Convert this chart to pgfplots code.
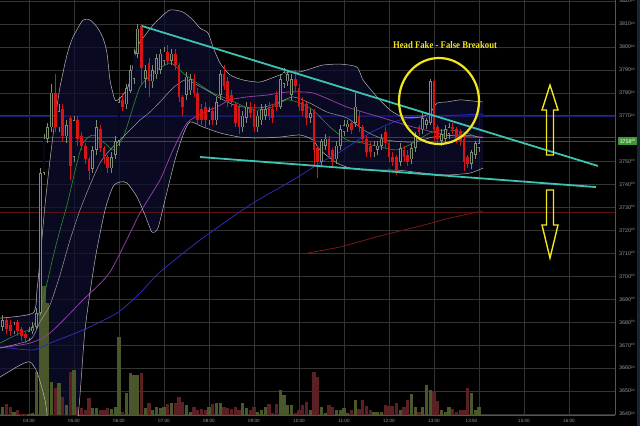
\documentclass[border=0pt]{standalone}
\usepackage{pgfplots}
\usepackage{pgfplotstable}
\pgfplotsset{compat=1.18}
\usepackage{fontspec}
\setmainfont{Liberation Sans}
\newfontfamily\annfont{Liberation Serif}
\definecolor{gridc}{HTML}{343434}
\definecolor{labc}{HTML}{9A9A9A}
\definecolor{axisc}{HTML}{555555}
\definecolor{bbfill}{HTML}{0D0D30}
\definecolor{bandc}{HTML}{B8B8B8}
\definecolor{midc}{HTML}{9C9C9C}
\definecolor{emac}{HTML}{2F8F2F}
\definecolor{purc}{HTML}{8E3CA0}
\definecolor{bluc}{HTML}{2C2CB8}
\definecolor{redmac}{HTML}{7A1818}
\definecolor{hblue}{HTML}{191970}
\definecolor{hpur}{HTML}{5E2A70}
\definecolor{hgreen}{HTML}{1F5F1F}
\definecolor{hred}{HTML}{5A1212}
\definecolor{candred}{HTML}{D81414}
\definecolor{candup}{HTML}{7E8C70}
\definecolor{candin}{HTML}{07071A}
\definecolor{volup}{HTML}{4A572A}
\definecolor{voldn}{HTML}{5A2024}
\definecolor{trendc}{HTML}{3EC2B2}
\definecolor{yel}{HTML}{F2E61E}
\definecolor{pricebox}{HTML}{3C9A34}
\definecolor{stripc}{HTML}{1A2535}
\newcommand\yl[1]{#1\raisebox{1.6pt}{\fontsize{3.2}{3.5}\selectfont 00}}

\pgfplotstableread{
i o h l c v
0 3678 3683 3676 3681 8
3 3676 3680 3675 3679 3
7 3673 3678 3672 3676 1
8 3676 3680 3675 3678 2
9 3678 3686 3677 3684 43
10 3684 3747 3683 3745 137
11 3745 3762 3744 3760 129
12 3760 3767 3758 3765 112
13 3765 3784 3763 3780 33
15 3765 3775 3763 3772 32
17 3761 3768 3758 3766 10
19 3752 3770 3750 3768 45
24 3747 3757 3745 3755 7
25 3755 3768 3753 3765 7
29 3747 3754 3745 3752 6
30 3753 3761 3751 3759 8
31 3759 3778 3757 3776 78
33 3775 3784 3773 3782 22
34 3781 3792 3780 3790 42
35 3786 3799 3784 3797 40
36 3797 3810 3795 3808 40
38 3786 3792 3782 3790 7
40 3785 3792 3782 3790 5
41 3788 3797 3786 3795 8
42 3790 3799 3788 3797 7
43 3794 3800 3792 3798 8
45 3794 3799 3792 3797 12
49 3779 3789 3777 3787 10
50 3781 3788 3779 3786 3
55 3768 3774 3766 3772 8
57 3768 3778 3766 3776 12
58 3779 3790 3777 3788 12
64 3765 3772 3763 3770 12
65 3769 3776 3767 3774 7
68 3765 3772 3763 3770 3
69 3768 3775 3766 3773 5
70 3770 3775 3768 3773 8
74 3774 3788 3773 3786 25
75 3784 3791 3782 3789 20
76 3785 3790 3783 3788 10
77 3779 3788 3777 3786 10
82 3769 3773 3767 3771 5
85 3750 3760 3748 3759 8
86 3757 3762 3755 3760 2
89 3751 3759 3749 3757 5
90 3757 3766 3755 3764 5
91 3763 3768 3761 3766 7
92 3765 3768 3763 3766.5 2
94 3767 3780 3765 3774 15
99 3754 3759 3752 3757 3
100 3755 3759 3753 3757 3
101 3757 3762 3755 3760 3
106 3750 3758 3748 3756 5
109 3751 3758 3749 3756 21
110 3756 3763 3754 3761 8
112 3764 3771 3762 3769 8
113 3766 3769 3764 3768 30
114 3767 3786 3766 3785 25
117 3759 3764 3757 3762 5
118 3760 3766 3758 3764 3
119 3762 3767 3760 3765 8
125 3749 3755 3747 3754 22
126 3753 3759 3751 3758 5
127 3756 3760 3754 3758 8
}\up

\pgfplotstableread{
i o h l c v
1 3681 3682 3675 3677 11
2 3679 3681 3674 3676 8
4 3680 3681 3674 3676 5
5 3677 3678 3672 3674 1
6 3675 3676 3671 3673 1
14 3780 3788 3763 3765 27
16 3773 3775 3759 3761 18
18 3769 3770 3742 3748 43
20 3768 3770 3757 3760 8
21 3761 3763 3755 3757 7
22 3757 3758 3749 3751 5
23 3751 3752 3742 3746 17
26 3764 3766 3754 3756 5
27 3756 3757 3749 3751 5
28 3752 3753 3745 3747 7
32 3777 3780 3772 3774 3
37 3809 3810 3784 3791 42
39 3793 3795 3778 3785 12
44 3798 3801 3792 3794 11
46 3797 3799 3790 3792 12
47 3792 3793 3776 3778 18
48 3778 3779 3770 3774 13
51 3786 3788 3778 3780 8
52 3780 3782 3766 3768 5
53 3773 3775 3766 3768 6
54 3774 3776 3765 3768 5
56 3772 3774 3766 3768 11
59 3788 3792 3781 3783 8
60 3785 3787 3774 3776 7
61 3779 3781 3774 3776 6
62 3775 3776 3765 3767 8
63 3774 3775 3762 3765 5
66 3774 3776 3769 3771 5
67 3773 3775 3763 3765 8
71 3774 3776 3768 3770 11
72 3773 3775 3767 3769 2
73 3779 3781 3772 3774 11
78 3786 3790 3781 3783 2
79 3782 3784 3772 3774 5
80 3776 3778 3770 3772 10
81 3775 3776 3766 3769 13
83 3772 3773 3748 3755 43
84 3756 3757 3743 3750 38
87 3760 3761 3751 3753 10
88 3755 3756 3748 3750 8
93 3767 3768 3762 3764 5
95 3770 3772 3763 3765 6
96 3765 3766 3758 3760 15
97 3760 3761 3752 3754 9
98 3757 3759 3752 3754 5
102 3763 3765 3756 3758 10
103 3758 3759 3750 3752 9
104 3752 3754 3748 3750 9
105 3752 3753 3744 3746 12
107 3755 3757 3750 3752 8
108 3753 3755 3748 3750 15
111 3765 3766 3761 3763 3
115 3785 3786 3759 3764 23
116 3765 3766 3758 3760 14
120 3765 3767 3762 3764 6
121 3764 3765 3758 3760 3
122 3763 3764 3757 3759 5
123 3760 3761 3746 3750 5
124 3752 3753 3747 3749 27
}\dn

\begin{document}
\begin{tikzpicture}
\fill[black] (0,0) rectangle (640pt,426pt);
\begin{axis}[
  at={(0pt,11pt)}, anchor=south west, scale only axis,
  width=615pt, height=415pt,
  xmin=-0.733, xmax=163.27, ymin=3639.56, ymax=3820.44,
  axis background/.style={fill=black},
  axis x line*=bottom, axis y line*=right,
  axis line style={draw=axisc, line width=0.7pt},
  grid=major, major grid style={draw=gridc, line width=0.5pt},
  tick style={draw=none},
  xtick={7,19,31,43,55,67,79,91,103,115,127,139,151},
  xticklabels={04:00,05:00,06:00,07:00,08:00,09:00,10:00,11:00,12:00,13:00,{},15:00,16:00},
  extra x ticks={125}, extra x tick labels={13:50},
  extra x tick style={grid=none},
  ytick={3640,3650,3660,3670,3680,3690,3700,3710,3720,3730,3740,3750,3770,3780,3790,3800,3810,3820},
  yticklabels={\yl{3640},\yl{3650},\yl{3660},\yl{3670},\yl{3680},\yl{3690},\yl{3700},\yl{3710},\yl{3720},\yl{3730},\yl{3740},\yl{3750},\yl{3770},\yl{3780},\yl{3790},\yl{3800},\yl{3810},\yl{3820}},
  x tick label style={font=\fontsize{4.6}{5}\selectfont, text=labc, inner sep=0pt, anchor=north, yshift=-4pt},
  y tick label style={font=\fontsize{5.3}{6}\selectfont, text=labc, inner sep=0pt, anchor=west, xshift=4pt},
]
% Bollinger band fill (upper left->right, lower right->left)
\addplot[draw=none, fill=bbfill, fill opacity=0.7, forget plot] coordinates {
(-0.73,3681.8) (8.07,3684.0) (9.13,3694.0) (9.93,3707.1) (11.27,3731.1) (12.6,3750.7) (13.93,3768.1) (15.27,3782.5) (17.13,3796.5) (18.73,3804.3) (21.4,3811.7) (23.27,3811.7) (25.13,3808.7) (26.73,3803.9) (27.8,3797.3) (28.6,3785.6) (29.93,3776.9) (31.27,3777.7) (33.4,3782.5) (34.73,3792.1) (35.8,3800.0) (37.4,3803.9) (40.07,3809.5) (41.93,3812.6) (44.6,3816.1) (48.07,3815.2) (50.73,3811.7) (52.6,3808.2) (54.73,3806.1) (56.07,3800.0) (57.93,3793.0) (60.6,3787.8) (64.07,3785.6) (68.6,3784.7) (73.93,3787.8) (76.6,3789.1) (79.27,3789.1) (82.73,3790.8) (85.4,3792.1) (89.93,3792.5) (94.47,3791.2) (96.07,3785.6) (99.8,3778.2) (103.27,3772.5) (106.73,3769.4) (111.27,3769.4) (113.93,3771.2) (115.8,3775.5) (118.47,3776.0) (121.93,3776.9) (125.4,3776.4) (128.07,3776.0)
(128.07,3747.2) (124.6,3745.0) (118.47,3744.2) (112.07,3745.0) (105.13,3746.3) (96.07,3746.3) (92.6,3747.2) (89.13,3749.4) (84.6,3755.1) (82.73,3759.4) (79.27,3761.6) (73.93,3760.7) (68.6,3760.3) (63.27,3760.7) (57.93,3762.5) (53.4,3765.1) (49.93,3767.3) (48.07,3761.6) (45.93,3750.7) (43.27,3733.3) (41.4,3721.1) (39.8,3719.3) (37.93,3726.7) (35.8,3734.6) (33.13,3740.7) (31.27,3741.1) (29.4,3739.1) (27.27,3728.9) (24.6,3707.1) (21.93,3676.6) (19.27,3628.7) (13.13,3628.7) (11.27,3646.1) (9.13,3658.3) (7.27,3662.7) (4.6,3661.3) (-0.73,3656.1)
};
% horizontal reference lines
\addplot[hblue, line width=0.6pt] coordinates {(-1,3769.9) (164,3769.9)};
\addplot[hred, line width=0.6pt] coordinates {(-1,3728.0) (164,3728.0)};
\addplot[hpur, line width=1.0pt] coordinates {(-1,3760.7) (164,3760.7)};
\addplot[hgreen, line width=0.6pt] coordinates {(-1,3759.0) (164,3759.0)};
% volume
\addplot[draw=none, mark=none, forget plot, error bars/.cd, y dir=both, y explicit, error mark=none,
  error bar style={draw=volup, line width=3.1pt}]
  table[x=i, y expr={3639.56+0.21792*\thisrow{v}}, y error expr={0.21792*\thisrow{v}}] {\up};
\addplot[draw=none, mark=none, forget plot, error bars/.cd, y dir=both, y explicit, error mark=none,
  error bar style={draw=voldn, line width=3.1pt}]
  table[x=i, y expr={3639.56+0.21792*\thisrow{v}}, y error expr={0.21792*\thisrow{v}}] {\dn};
% moving averages
\addplot[bluc, line width=0.8pt, smooth, tension=0.4] coordinates {
(-0.73,3669.2) (8.07,3667.9) (12.6,3670.9) (21.4,3676.6) (30.47,3684.0) (36.6,3692.7) (41.93,3701.9) (52.6,3715.8) (65.93,3731.1) (77.4,3742.0) (84.6,3749.4) (89.93,3754.2) (97.93,3762.5) (105.93,3768.1) (116.6,3769.9) (128.07,3770.7)};
\addplot[redmac, line width=0.8pt, smooth, tension=0.4] coordinates {
(81.4,3710.2) (89.93,3712.8) (100.6,3717.6) (111.27,3721.9) (119.27,3725.4) (128.07,3728.5)};
\addplot[purc, line width=0.8pt, smooth, tension=0.4] coordinates {
(-0.73,3668.8) (7.27,3670.9) (12.6,3675.3) (21.4,3689.7) (28.6,3701.9) (36.6,3727.6) (41.93,3742.0) (45.4,3755.1) (49.13,3766.8) (53.4,3771.2) (57.13,3773.8) (60.6,3776.9) (65.13,3778.2) (70.47,3779.0) (75.8,3780.3) (82.73,3779.9) (91.8,3773.8) (100.6,3769.4) (109.4,3765.1) (118.47,3761.6) (125.4,3760.7) (128.07,3760.7)};
\addplot[emac, line width=0.6pt, smooth, tension=0.4] coordinates {
(-0.73,3670.9) (4.6,3675.3) (8.07,3677.9) (10.73,3689.7) (13.4,3708.4) (15.27,3720.2) (17.13,3731.1) (19.8,3749.4) (21.4,3758.1) (24.07,3761.6) (27.8,3757.2) (29.4,3755.1) (32.07,3760.3) (33.93,3769.4) (36.6,3782.5) (40.07,3788.6) (44.6,3793.0) (48.07,3788.6) (51.8,3784.3) (56.07,3779.9) (60.6,3776.9) (66.73,3772.5) (71.27,3773.4) (75.8,3776.9) (79.27,3775.5) (82.73,3772.5) (87.27,3765.1) (91.8,3759.4) (96.07,3758.1) (100.6,3756.4) (105.13,3755.1) (109.4,3758.1) (113.93,3762.5) (118.47,3763.8) (122.73,3762.9) (127.27,3760.3)};
% Bollinger middle
\addplot[midc, line width=0.5pt, smooth, tension=0.4] coordinates {
(-0.73,3668.8) (7.27,3672.3) (9.93,3680.1) (12.6,3687.5) (15.27,3700.6) (17.93,3715.8) (20.6,3728.9) (23.27,3739.8) (25.93,3749.4) (28.6,3755.1) (31.27,3759.4) (33.93,3763.8) (36.6,3768.1) (39.27,3771.6) (41.93,3776.0) (45.4,3782.1) (48.6,3785.6) (51.8,3783.4) (55.27,3780.3) (57.93,3777.7) (62.47,3774.2) (68.6,3773.4) (73.13,3775.5) (77.4,3778.2) (81.93,3775.5) (86.47,3771.6) (91.8,3769.0) (97.13,3762.9) (102.47,3759.4) (109.4,3758.5) (114.73,3760.7) (121.13,3761.6) (125.4,3761.2) (128.07,3760.3)};
% Bollinger upper
\addplot[bandc, line width=0.5pt, smooth, tension=0.4] coordinates {
(-0.73,3681.8) (8.07,3684.0) (9.13,3694.0) (9.93,3707.1) (11.27,3731.1) (12.6,3750.7) (13.93,3768.1) (15.27,3782.5) (17.13,3796.5) (18.73,3804.3) (21.4,3811.7) (23.27,3811.7) (25.13,3808.7) (26.73,3803.9) (27.8,3797.3) (28.6,3785.6) (29.93,3776.9) (31.27,3777.7) (33.4,3782.5) (34.73,3792.1) (35.8,3800.0) (37.4,3803.9) (40.07,3809.5) (41.93,3812.6) (44.6,3816.1) (48.07,3815.2) (50.73,3811.7) (52.6,3808.2) (54.73,3806.1) (56.07,3800.0) (57.93,3793.0) (60.6,3787.8) (64.07,3785.6) (68.6,3784.7) (73.93,3787.8) (76.6,3789.1) (79.27,3789.1) (82.73,3790.8) (85.4,3792.1) (89.93,3792.5) (94.47,3791.2) (96.07,3785.6) (99.8,3778.2) (103.27,3772.5) (106.73,3769.4) (111.27,3769.4) (113.93,3771.2) (115.8,3775.5) (118.47,3776.0) (121.93,3776.9) (125.4,3776.4) (128.07,3776.0)};
% Bollinger lower
\addplot[bandc, line width=0.5pt, smooth, tension=0.4] coordinates {
(-0.73,3656.1) (4.6,3661.3) (7.27,3662.7) (9.13,3658.3) (11.27,3646.1) (13.13,3628.7) (19.27,3628.7) (21.93,3676.6) (24.6,3707.1) (27.27,3728.9) (29.4,3739.1) (31.27,3741.1) (33.13,3740.7) (35.8,3734.6) (37.93,3726.7) (39.8,3719.3) (41.4,3721.1) (43.27,3733.3) (45.93,3750.7) (48.07,3761.6) (49.93,3767.3) (53.4,3765.1) (57.93,3762.5) (63.27,3760.7) (68.6,3760.3) (73.93,3760.7) (79.27,3761.6) (82.73,3759.4) (84.6,3755.1) (89.13,3749.4) (92.6,3747.2) (96.07,3746.3) (105.13,3746.3) (112.07,3745.0) (118.47,3744.2) (124.6,3745.0) (128.07,3747.2)};
% candles: wicks
\addplot[draw=none, mark=none, forget plot, error bars/.cd, y dir=both, y explicit, error mark=none,
  error bar style={draw=candup, line width=0.6pt}]
  table[x=i, y expr={(\thisrow{h}+\thisrow{l})/2}, y error expr={(\thisrow{h}-\thisrow{l})/2}] {\up};
\addplot[draw=none, mark=none, forget plot, error bars/.cd, y dir=both, y explicit, error mark=none,
  error bar style={draw=candred, line width=0.7pt}]
  table[x=i, y expr={(\thisrow{h}+\thisrow{l})/2}, y error expr={(\thisrow{h}-\thisrow{l})/2}] {\dn};
% candles: bodies
\addplot[draw=none, mark=none, forget plot, error bars/.cd, y dir=both, y explicit, error mark=none,
  error bar style={draw=candup, line width=2.8pt}]
  table[x=i, y expr={(\thisrow{o}+\thisrow{c})/2}, y error expr={(\thisrow{c}-\thisrow{o})/2}] {\up};
\addplot[draw=none, mark=none, forget plot, error bars/.cd, y dir=both, y explicit, error mark=none,
  error bar style={draw=candin, line width=1.4pt}]
  table[x=i, y expr={(\thisrow{o}+\thisrow{c})/2}, y error expr={max((\thisrow{c}-\thisrow{o})/2-0.3,0)}] {\up};
\addplot[draw=none, mark=none, forget plot, error bars/.cd, y dir=both, y explicit, error mark=none,
  error bar style={draw=candred, line width=2.8pt}]
  table[x=i, y expr={(\thisrow{o}+\thisrow{c})/2}, y error expr={(\thisrow{o}-\thisrow{c})/2}] {\dn};
% trend lines
\addplot[trendc, line width=1.8pt] coordinates {(37.13,3809.1) (158.73,3748.1)};
\addplot[trendc, line width=1.8pt] coordinates {(52.6,3752.0) (158.2,3738.9)};
\end{axis}
\begin{scope}[shift={(0pt,426pt)}, x=1pt, y=-1pt]
  \fill[stripc] (637,0) rectangle (640,426);
  \node[fill=pricebox, text=white, inner sep=0pt, minimum width=19.5pt, minimum height=8pt, anchor=west,
        font=\fontsize{5.3}{6}\selectfont] at (617.5,141.5) {\yl{3758}};
  \draw[yel, line width=2.2pt] (439,101) ellipse [x radius=40pt, y radius=43pt];
  \node[text=yel, inner sep=0pt] at (445,45.5) {\resizebox{104pt}{7pt}{\annfont\bfseries Head Fake - False Breakout}};
  \draw[yel, line width=1.4pt, line join=miter]
    (550,85) -- (558,110) -- (553.5,110) -- (553.5,155) -- (546.5,155) -- (546.5,110) -- (542,110) -- cycle;
  \draw[yel, line width=1.4pt, line join=miter]
    (546.5,190) -- (553.5,190) -- (553.5,225) -- (558,225) -- (550,258) -- (542,225) -- (546.5,225) -- cycle;
\end{scope}
\pgfresetboundingbox
\useasboundingbox (0,0) rectangle (640pt,426pt);
\end{tikzpicture}
\end{document}
